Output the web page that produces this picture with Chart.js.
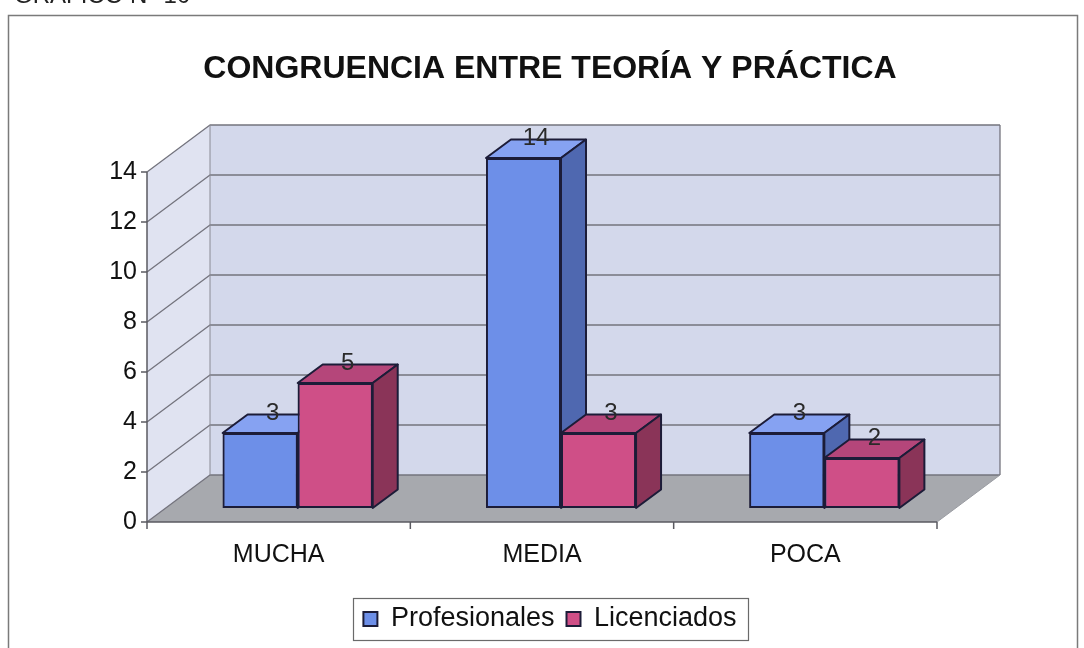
<!DOCTYPE html>
<html><head><meta charset="utf-8">
<script src="https://cdn.jsdelivr.net/npm/chart.js@4"></script>
<style>
html,body{margin:0;padding:0;background:#fff;overflow:hidden}
#wrap{position:relative;width:1084px;height:648px}
#cap{position:absolute;left:14px;top:-17px;font:24px 'Liberation Sans',Arial,sans-serif;line-height:24px;color:#222;white-space:nowrap}
canvas{position:absolute;left:0;top:0}
</style></head><body>
<div id="wrap"><canvas id="c" width="1084" height="648"></canvas><div id="cap">GRAFICO N° 10</div></div>
<script>
// ---- data ----
const categories = ['MUCHA', 'MEDIA', 'POCA'];
const profesionales = [3, 14, 3];
const licenciados = [5, 3, 2];
const yTicks = [0, 2, 4, 6, 8, 10, 12, 14];
const chartTitle = 'CONGRUENCIA ENTRE TEORÍA Y PRÁCTICA';
const seriesNames = ['Profesionales', 'Licenciados'];

// ---- styles ----
const frontColors = ['#6d8fe8', '#cf4f87'];
const topColors = ['#86a2f2', '#b5467a'];
const sideColors = ['#4f68b0', '#8a3458'];
const edgeColor = '#1c1c38';
const FONT = "'Liberation Sans', Arial, sans-serif";
const FRONT = {dx: -19, dy: 14};   // front plane relative to bar plane
const BACK = {dx: 44, dy: -33};    // back wall relative to bar plane
const BAR_DEPTH = {dx: 25, dy: -18.5};

function poly(ctx, pts, fill, stroke, lw) {
  ctx.beginPath();
  pts.forEach((p, i) => i ? ctx.lineTo(p[0], p[1]) : ctx.moveTo(p[0], p[1]));
  ctx.closePath();
  if (fill) { ctx.fillStyle = fill; ctx.fill(); }
  if (stroke) { ctx.strokeStyle = stroke; ctx.lineWidth = lw || 1; ctx.stroke(); }
}
function line(ctx, pts, color, lw) {
  ctx.beginPath();
  pts.forEach((p, i) => i ? ctx.lineTo(p[0], p[1]) : ctx.moveTo(p[0], p[1]));
  ctx.strokeStyle = color; ctx.lineWidth = lw; ctx.stroke();
}

const framePlugin = {
  id: 'frame',
  beforeDraw(chart) {
    const ctx = chart.ctx;
    ctx.save();
    ctx.fillStyle = '#ffffff';
    ctx.fillRect(0, 0, chart.width, chart.height);
    ctx.strokeStyle = '#7a7a7a';
    ctx.lineWidth = 1.5;
    ctx.strokeRect(8.5, 15.5, 1069, 700);
    ctx.restore();
  }
};

const wallsPlugin = {
  id: 'walls',
  beforeDatasetsDraw(chart) {
    const {ctx, chartArea: a, scales: {x, y}} = chart;
    const y0 = y.getPixelForValue(0), yT = y.getPixelForValue(y.max);
    const fl = a.left + FRONT.dx, fr = a.right + FRONT.dx;
    const bl = a.left + BACK.dx, br = a.right + BACK.dx;
    ctx.save();
    ctx.lineJoin = 'round';
    poly(ctx, [[fl, y0 + FRONT.dy], [fl, yT + FRONT.dy], [bl, yT + BACK.dy], [bl, y0 + BACK.dy]], '#e0e3f1');
    poly(ctx, [[bl, yT + BACK.dy], [br, yT + BACK.dy], [br, y0 + BACK.dy], [bl, y0 + BACK.dy]], '#d3d8eb');
    poly(ctx, [[fl, y0 + FRONT.dy], [fr, y0 + FRONT.dy], [br, y0 + BACK.dy], [bl, y0 + BACK.dy]], '#a7a9ae');
    yTicks.forEach(v => {
      const p = y.getPixelForValue(v);
      line(ctx, [[fl, p + FRONT.dy], [bl, p + BACK.dy], [br, p + BACK.dy]], '#74747e', 1.3);
    });
    line(ctx, [[bl, yT + BACK.dy], [bl, y0 + BACK.dy]], '#8a8a94', 1);
    line(ctx, [[br, yT + BACK.dy], [br, y0 + BACK.dy]], '#74747e', 1.3);
    line(ctx, [[fr, y0 + FRONT.dy], [br, y0 + BACK.dy]], '#9a9ca2', 1);
    line(ctx, [[fl, yT + FRONT.dy], [fl, y0 + FRONT.dy]], '#5a5a60', 1.5);
    yTicks.forEach(v => {
      const p = y.getPixelForValue(v) + FRONT.dy;
      line(ctx, [[fl - 6, p], [fl, p]], '#5a5a60', 1.5);
    });
    line(ctx, [[fl, y0 + FRONT.dy], [fr, y0 + FRONT.dy]], '#5a5a60', 1.5);
    const n = categories.length, w = (a.right - a.left) / n;
    for (let k = 0; k <= n; k++) {
      const px = a.left + k * w + FRONT.dx;
      line(ctx, [[px, y0 + FRONT.dy], [px, y0 + FRONT.dy + 7]], '#5a5a60', 1.5);
    }
    ctx.restore();
  },
  afterDatasetsDraw(chart) {
    const ctx = chart.ctx;
    ctx.save();
    ctx.lineJoin = 'round';
    const metas = chart.data.datasets.map((d, i) => chart.getDatasetMeta(i));
    categories.forEach((c, i) => {
      metas.forEach((meta, d) => {
        const el = meta.data[i];
        el.draw(ctx);
        const x0 = el.x - el.width / 2, x1 = el.x + el.width / 2, yt = el.y, yb = el.base;
        const dx = BAR_DEPTH.dx, dy = BAR_DEPTH.dy;
        poly(ctx, [[x0, yt], [x1, yt], [x1 + dx, yt + dy], [x0 + dx, yt + dy]], topColors[d], edgeColor, 2);
        poly(ctx, [[x1, yt], [x1 + dx, yt + dy], [x1 + dx, yb + dy], [x1, yb]], sideColors[d], edgeColor, 2);
      });
    });
    ctx.fillStyle = '#2a2a2a';
    ctx.font = '24px ' + FONT;
    ctx.textAlign = 'center';
    ctx.textBaseline = 'middle';
    metas.forEach((meta, d) => {
      meta.data.forEach((el, i) => {
        const v = chart.data.datasets[d].data[i];
        ctx.fillText(String(v), el.x + 12.5, el.y - 19.5);
      });
    });
    ctx.restore();
  }
};

const legendBoxPlugin = {
  id: 'legendBox',
  afterDraw(chart) {
    const hb = chart.legend && chart.legend.legendHitBoxes;
    if (!hb || !hb.length) return;
    const minX = Math.min(...hb.map(h => h.left));
    const maxX = Math.max(...hb.map(h => h.left + h.width));
    const cy = hb[0].top + hb[0].height / 2;
    const ctx = chart.ctx;
    ctx.save();
    ctx.strokeStyle = '#6a6a6a';
    ctx.lineWidth = 1.2;
    ctx.strokeRect(Math.round(minX - 10) + 0.5, Math.round(cy - 21) + 0.5, Math.round(maxX - minX + 22), 42);
    ctx.restore();
  }
};

new Chart(document.getElementById('c'), {
  type: 'bar',
  data: {
    labels: categories,
    datasets: [
      {label: seriesNames[0], data: profesionales, backgroundColor: frontColors[0], borderColor: edgeColor, borderWidth: 2, borderSkipped: false},
      {label: seriesNames[1], data: licenciados, backgroundColor: frontColors[1], borderColor: edgeColor, borderWidth: 2, borderSkipped: false}
    ]
  },
  options: {
    responsive: false,
    animation: false,
    devicePixelRatio: 1,
    categoryPercentage: 0.57,
    barPercentage: 1.0,
    layout: {padding: {left: 100, right: 84, top: 0, bottom: 5.5}},
    plugins: {
      title: {display: true, text: chartTitle, color: '#111', font: {family: FONT, size: 32, weight: 'bold'}, padding: {top: 49.5, bottom: 70.1}},
      legend: {
        position: 'bottom',
        labels: {color: '#111', font: {family: FONT, size: 27}, boxWidth: 14, boxHeight: 14, padding: 12}
      },
      tooltip: {enabled: false}
    },
    scales: {
      x: {
        grid: {display: false, drawTicks: false},
        border: {display: false},
        ticks: {color: '#111', font: {family: FONT, size: 25}, padding: 32, labelOffset: -19, maxRotation: 0},
        afterFit(s) { s.height = 85.5; }
      },
      y: {
        min: 0, max: 14,
        grid: {display: false, drawTicks: false},
        border: {display: false},
        ticks: {stepSize: 2, color: '#111', font: {family: FONT, size: 25}, padding: 29, labelOffset: 14},
        afterFit(s) { s.width = 66; }
      },
      yRight: {
        position: 'right',
        grid: {display: false, drawTicks: false},
        border: {display: false},
        ticks: {display: false},
        afterFit(s) { s.width = 44; }
      }
    }
  },
  plugins: [framePlugin, wallsPlugin, legendBoxPlugin]
});
</script>
</body></html>
